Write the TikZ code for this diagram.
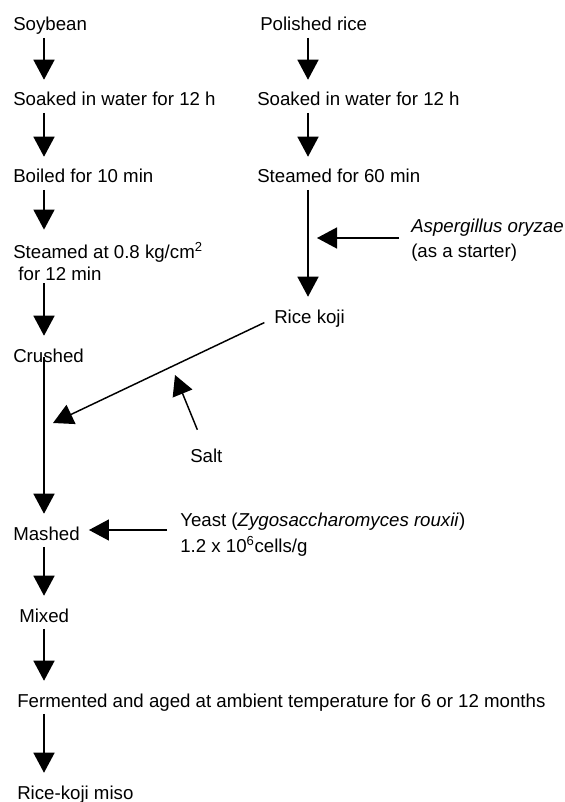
\documentclass[tikz,border=0pt]{standalone}
\usepackage{fontspec}
\setmainfont{Liberation Sans}
\usetikzlibrary{arrows.meta}
\tikzset{
  stage/.style={anchor=base west,inner sep=0pt,text height=10.5pt,text depth=3pt,font=\fontsize{14}{17}\selectfont},
  note/.style={anchor=base west,inner sep=0pt,align=left,font=\fontsize{14}{17}\selectfont},
  flow/.style={line width=1.1pt,-{Triangle[length=15pt,width=15.75pt]}},
}
\begin{document}
\begin{tikzpicture}[x=0.75pt,y=0.75pt]
\useasboundingbox (0,0) rectangle (564,-802);
\coordinate (xL) at (44,0);
\coordinate (xR) at (308,0);
\node[stage] (soy) at (13,-31) {Soybean};
\node[stage] (soakL) at (13,-106) {Soaked in water for 12 h};
\node[stage] (boil) at (13,-183) {Boiled for 10 min};
\node[note] (steamL) at (13,-280) {Steamed at 0.8 kg/cm\textsuperscript{2}\\[-0.5pt]\ for 12 min};
\node[stage] (crush) at (13,-362) {Crushed};
\node[stage] (mash) at (13,-540) {Mashed};
\node[stage] (mix) at (19,-622) {Mixed};
\node[stage] (ferm) at (17,-707) {Fermented and aged at ambient temperature for 6 or 12 months};
\node[stage] (miso) at (17,-799) {Rice-koji miso};
\node[stage] (rice) at (260,-31) {Polished rice};
\node[stage] (soakR) at (257,-106) {Soaked in water for 12 h};
\node[stage] (steamR) at (257,-183) {Steamed for 60 min};
\node[stage] (koji) at (274,-323) {Rice koji};
\node[note] (asp) at (411,-257) {\textit{Aspergillus oryzae}\\[1pt](as a starter)};
\node[stage] (salt) at (190,-462) {Salt};
\node[note] (yeast) at (180,-552) {Yeast (\textit{Zygosaccharomyces rouxii})\\[2pt]1.2 x 10\textsuperscript{6}cells/g};
\foreach \a/\b in {soy/soakL,soakL/boil,boil/steamL,steamL/crush,mash/mix,mix/ferm,ferm/miso}
  \draw[flow,shorten <=2pt,shorten >=9pt] (\a.south -| xL) -- (\b.north -| xL);
\draw[flow,shorten >=9pt] (crush.center -| xL) -- (mash.north -| xL);
\foreach \a/\b in {rice/soakR,soakR/steamR,steamR/koji}
  \draw[flow,shorten <=2pt,shorten >=9pt] (\a.south -| xR) -- (\b.north -| xR);
\coordinate (aspin) at (317,-238);
\draw[flow,shorten <=9pt] (asp.west |- aspin) -- (aspin);
\coordinate (kojiin) at (53,-423);
\draw[flow,shorten <=8pt] (koji.west) -- (kojiin);
\coordinate (saltin) at (175,-375);
\draw[flow] ([shift={(-9,18)}]salt.north) -- (saltin);
\coordinate (yeastin) at (88,-530);
\draw[flow,shorten <=9.75pt,shorten >=6.75pt] (yeast.west |- yeastin) -- (mash.east |- yeastin);
\end{tikzpicture}
\end{document}
